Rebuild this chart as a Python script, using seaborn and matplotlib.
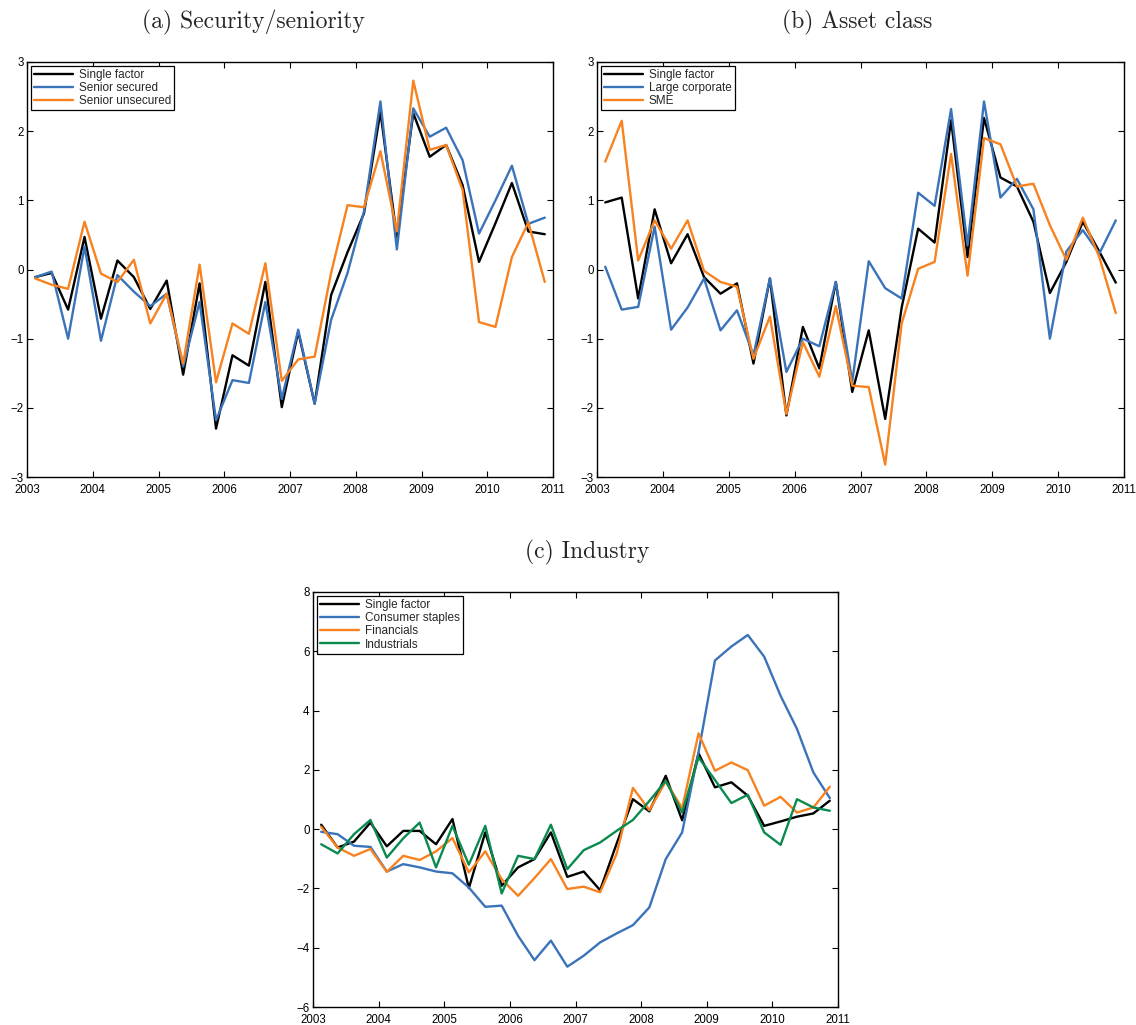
import matplotlib

matplotlib.use("Agg")

import matplotlib.pyplot as plt
import numpy as np
import pandas as pd
import seaborn as sns

# quarterly observation dates (mid-quarter), 2003Q1 .. 2010Q4
quarters = np.arange(2003.125, 2011.0, 0.25)

a_single = [-0.11, -0.05, -0.58, 0.47, -0.71, 0.13, -0.11, -0.57, -0.16, -1.52, -0.20, -2.30, -1.24, -1.39, -0.18, -1.99,
            -0.90, -1.94, -0.37, 0.25, 0.81, 2.28, 0.47, 2.26, 1.63, 1.80, 1.22, 0.11, 0.67, 1.25, 0.55, 0.51]
a_secured = [-0.11, -0.03, -1.00, 0.33, -1.03, -0.08, -0.32, -0.53, -0.35, -1.40, -0.47, -2.18, -1.60, -1.64, -0.47, -1.87,
             -0.87, -1.94, -0.73, -0.05, 0.84, 2.43, 0.29, 2.33, 1.92, 2.05, 1.58, 0.52, 1.00, 1.50, 0.66, 0.75]
a_unsecured = [-0.13, -0.22, -0.28, 0.69, -0.06, -0.18, 0.14, -0.78, -0.35, -1.36, 0.07, -1.63, -0.78, -0.93, 0.09, -1.61,
               -1.30, -1.26, -0.05, 0.93, 0.90, 1.71, 0.55, 2.73, 1.73, 1.80, 1.15, -0.76, -0.83, 0.18, 0.68, -0.18]

b_single = [0.97, 1.04, -0.42, 0.87, 0.09, 0.51, -0.11, -0.35, -0.20, -1.36, -0.13, -2.11, -0.83, -1.43, -0.18, -1.77,
            -0.88, -2.16, -0.55, 0.59, 0.39, 2.16, 0.18, 2.19, 1.33, 1.20, 0.69, -0.34, 0.11, 0.69, 0.26, -0.19]
b_large = [0.04, -0.58, -0.54, 0.62, -0.87, -0.55, -0.13, -0.88, -0.59, -1.24, -0.13, -1.48, -1.00, -1.11, -0.18, -1.62,
           0.12, -0.27, -0.42, 1.11, 0.92, 2.32, 0.35, 2.43, 1.04, 1.31, 0.87, -1.00, 0.26, 0.57, 0.23, 0.71]
b_sme = [1.56, 2.15, 0.13, 0.71, 0.30, 0.71, -0.02, -0.18, -0.25, -1.29, -0.68, -2.09, -1.05, -1.55, -0.53, -1.68,
         -1.70, -2.82, -0.78, 0.01, 0.11, 1.67, -0.09, 1.90, 1.81, 1.20, 1.24, 0.64, 0.14, 0.75, 0.18, -0.63]

c_single = [0.15, -0.62, -0.42, 0.22, -0.58, -0.06, -0.06, -0.51, 0.34, -1.99, -0.11, -1.91, -1.29, -1.01, -0.11, -1.61,
            -1.43, -2.06, -0.50, 1.01, 0.60, 1.80, 0.30, 2.56, 1.41, 1.58, 1.13, 0.11, 0.26, 0.42, 0.53, 0.96]
c_staples = [-0.09, -0.17, -0.56, -0.60, -1.43, -1.18, -1.29, -1.43, -1.49, -1.97, -2.62, -2.58, -3.60, -4.42, -3.76, -4.64,
             -4.27, -3.82, -3.52, -3.24, -2.64, -1.01, -0.11, 2.60, 5.69, 6.16, 6.55, 5.82, 4.50, 3.38, 1.91, 1.05]
c_financials = [0.08, -0.62, -0.90, -0.67, -1.44, -0.90, -1.04, -0.75, -0.30, -1.46, -0.75, -1.69, -2.25, -1.65, -1.01, -2.02,
                -1.94, -2.13, -0.84, 1.39, 0.64, 1.61, 0.71, 3.23, 1.97, 2.25, 1.99, 0.79, 1.09, 0.56, 0.73, 1.43]
c_industrials = [-0.51, -0.82, -0.17, 0.31, -0.96, -0.31, 0.22, -1.29, 0.11, -1.20, 0.11, -2.17, -0.90, -1.01, 0.15, -1.35,
                 -0.71, -0.45, -0.06, 0.31, 0.95, 1.63, 0.56, 2.42, 1.66, 0.88, 1.16, -0.11, -0.53, 1.01, 0.73, 0.62]

BLACK, BLUE, ORANGE, GREEN = "#000000", "#3a73b9", "#f7821f", "#0b8a4f"

panels = [
    ("(a) Security/seniority", {"Single factor": a_single, "Senior secured": a_secured, "Senior unsecured": a_unsecured},
     [BLACK, BLUE, ORANGE], (-3, 3), range(-3, 4), (27, 62, 553, 477), (253, 22)),
    ("(b) Asset class", {"Single factor": b_single, "Large corporate": b_large, "SME": b_sme},
     [BLACK, BLUE, ORANGE], (-3, 3), range(-3, 4), (597, 62, 1124, 477), (857, 22)),
    ("(c) Industry", {"Single factor": c_single, "Consumer staples": c_staples, "Financials": c_financials,
                      "Industrials": c_industrials},
     [BLACK, BLUE, ORANGE, GREEN], (-6, 8), range(-6, 9, 2), (313, 592, 838, 1007), (587, 552)),
]

sns.set_style("ticks")
plt.rcParams["font.family"] = ["Liberation Sans", "DejaVu Sans"]
plt.rcParams["xtick.direction"] = "in"
plt.rcParams["ytick.direction"] = "in"

W, H = 1136, 1025
fig = plt.figure(figsize=(W / 100, H / 100), dpi=100)

for title, series, colors, ylim, yticks, box, tpos in panels:
    x0, y0, x1, y1 = box
    ax = fig.add_axes([x0 / W, 1 - y1 / H, (x1 - x0) / W, (y1 - y0) / H])
    df = pd.DataFrame({"date": quarters, **series}).melt(id_vars="date", var_name="series", value_name="value")
    names = list(series.keys())
    sns.lineplot(data=df, x="date", y="value", hue="series", hue_order=names,
                 palette=dict(zip(names, colors)), linewidth=1.7, ax=ax, errorbar=None)
    ax.set_xlim(2003, 2011)
    ax.set_ylim(*ylim)
    ax.set_xticks(range(2003, 2012))
    ax.set_yticks(list(yticks))
    ax.set_xlabel("")
    ax.set_ylabel("")
    ax.tick_params(which="both", top=True, right=True, length=4, width=0.8, labelsize=8.3, colors="black")
    ax.tick_params(axis="x", pad=5)
    ax.tick_params(axis="y", pad=2.5)
    for sp in ax.spines.values():
        sp.set_linewidth(1.0)
        sp.set_color("black")
    sns.move_legend(ax, "upper left", title=None, frameon=True, fancybox=False, edgecolor="black",
                    framealpha=1, fontsize=8.5, borderaxespad=0.35, borderpad=0.25, labelspacing=0.1,
                    handlelength=3.3, handletextpad=0.5)
    ax.get_legend().get_frame().set_linewidth(0.9)
    fig.text(tpos[0] / W, 1 - tpos[1] / H, title, ha="center", va="center", fontsize=17, family="cmr10")

fig.savefig("out.png", dpi=100)
